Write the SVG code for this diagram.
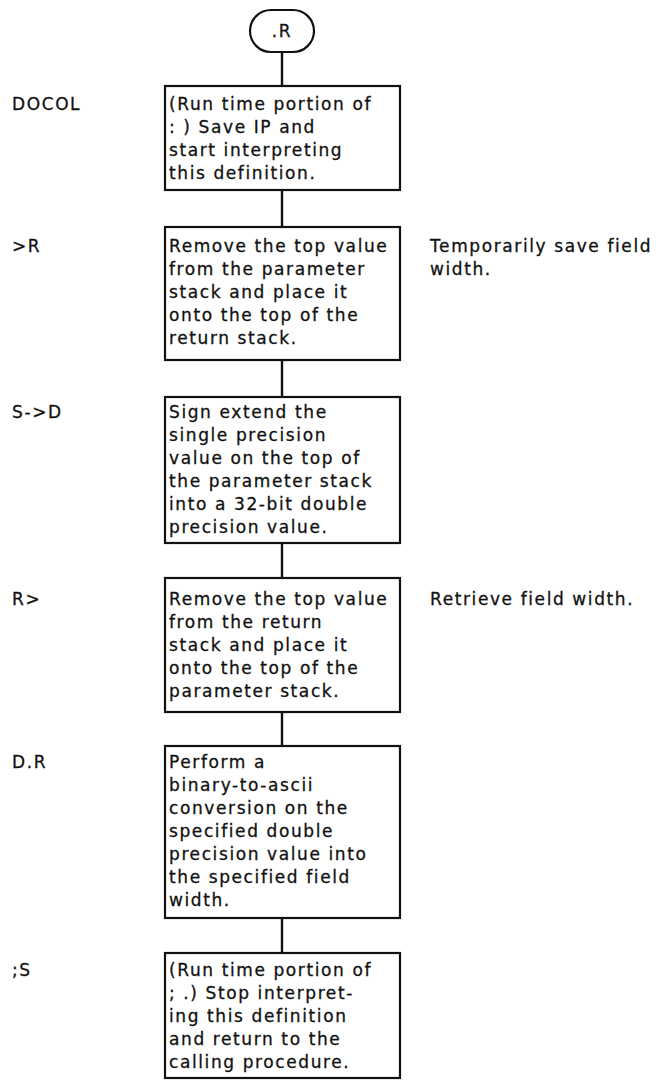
<svg xmlns="http://www.w3.org/2000/svg" width="658" height="1090" viewBox="0 0 658 1090">
<style>
text{font-family:"DejaVu Sans","Liberation Sans",sans-serif;font-size:17px;letter-spacing:1.6px;fill:#111;stroke:#111;stroke-width:0.3}
.box{fill:#fff;stroke:#111;stroke-width:2.2}
.c{stroke:#111;stroke-width:2.4;fill:none}
</style>
<rect width="658" height="1090" fill="#fff"/>
<g id="connectors">
<line class="c" x1="282" y1="52" x2="282" y2="86"/>
<line class="c" x1="282" y1="190" x2="282" y2="227"/>
<line class="c" x1="282" y1="360" x2="282" y2="397"/>
<line class="c" x1="282" y1="543" x2="282" y2="578"/>
<line class="c" x1="282" y1="712" x2="282" y2="746"/>
<line class="c" x1="282" y1="918" x2="282" y2="953"/>
</g>
<g id="start">
<rect class="box" x="250" y="10" width="64" height="42" rx="21"/>
<text x="282" y="37" text-anchor="middle">.R</text>
</g>
<g id="docol">
<text x="12" y="110">DOCOL</text>
<rect class="box" x="165" y="86" width="235" height="104"/>
<text x="169" y="110">(Run time portion of</text>
<text x="169" y="133">: ) Save IP and</text>
<text x="169" y="156">start interpreting</text>
<text x="169" y="179">this definition.</text>
</g>
<g id="tor">
<text x="12" y="252">&gt;R</text>
<rect class="box" x="165" y="227" width="235" height="133"/>
<text x="169" y="252">Remove the top value</text>
<text x="169" y="275">from the parameter</text>
<text x="169" y="298">stack and place it</text>
<text x="169" y="321">onto the top of the</text>
<text x="169" y="344">return stack.</text>
<text x="430" y="252">Temporarily save field</text>
<text x="430" y="275">width.</text>
</g>
<g id="stod">
<text x="12" y="418">S-&gt;D</text>
<rect class="box" x="165" y="397" width="235" height="146"/>
<text x="169" y="418">Sign extend the</text>
<text x="169" y="441">single precision</text>
<text x="169" y="464">value on the top of</text>
<text x="169" y="487">the parameter stack</text>
<text x="169" y="510">into a 32-bit double</text>
<text x="169" y="533">precision value.</text>
</g>
<g id="rfrom">
<text x="12" y="605">R&gt;</text>
<rect class="box" x="165" y="578" width="235" height="134"/>
<text x="169" y="605">Remove the top value</text>
<text x="169" y="628">from the return</text>
<text x="169" y="651">stack and place it</text>
<text x="169" y="674">onto the top of the</text>
<text x="169" y="697">parameter stack.</text>
<text x="430" y="605">Retrieve field width.</text>
</g>
<g id="ddotr">
<text x="12" y="768">D.R</text>
<rect class="box" x="165" y="746" width="235" height="172"/>
<text x="169" y="768">Perform a</text>
<text x="169" y="791">binary-to-ascii</text>
<text x="169" y="814">conversion on the</text>
<text x="169" y="837">specified double</text>
<text x="169" y="860">precision value into</text>
<text x="169" y="883">the specified field</text>
<text x="169" y="906">width.</text>
</g>
<g id="semis">
<text x="12" y="976">;S</text>
<rect class="box" x="165" y="953" width="235" height="125"/>
<text x="169" y="976">(Run time portion of</text>
<text x="169" y="999">; .) Stop interpret-</text>
<text x="169" y="1022">ing this definition</text>
<text x="169" y="1045">and return to the</text>
<text x="169" y="1068">calling procedure.</text>
</g>
</svg>
